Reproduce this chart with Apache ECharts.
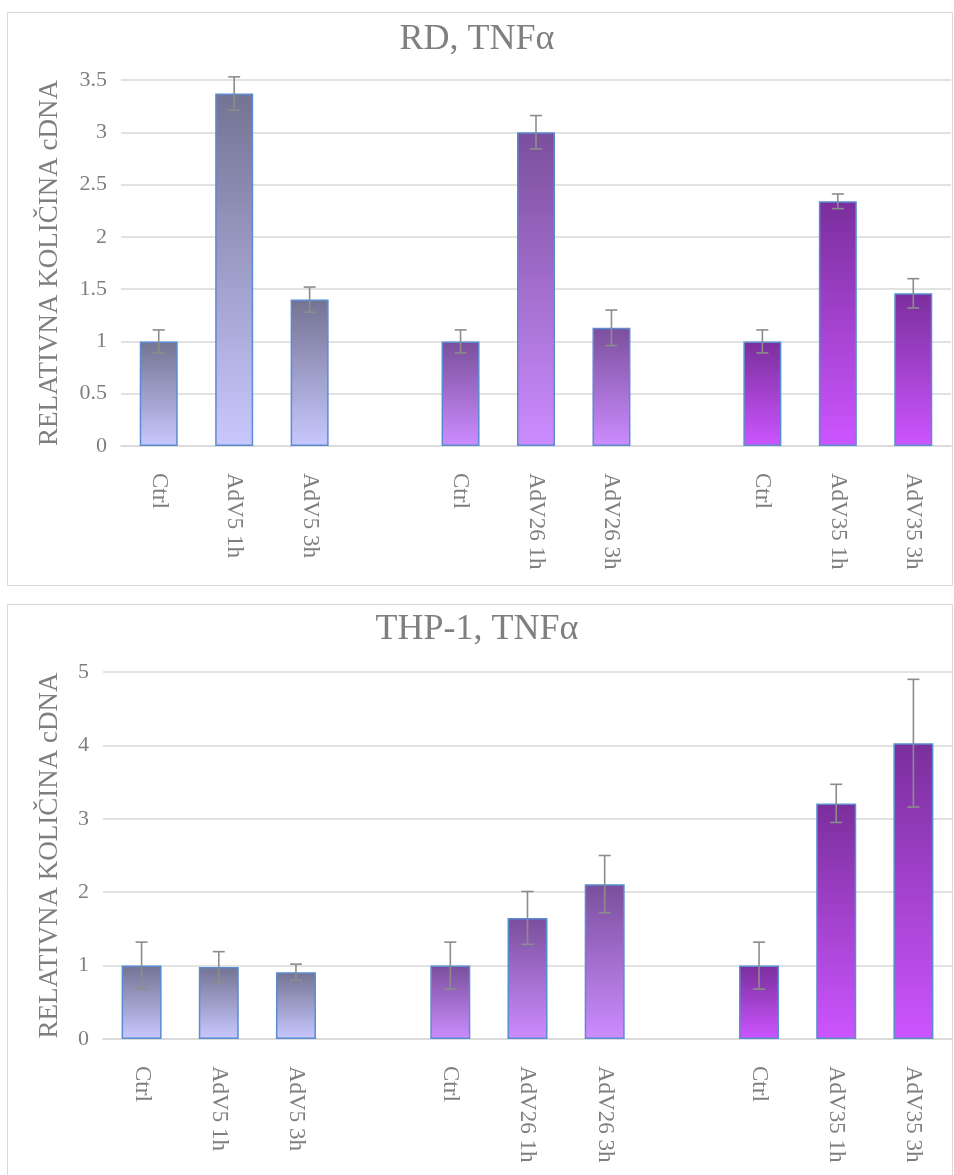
<!DOCTYPE html>
<html>
<head>
<meta charset="utf-8">
<script src="https://cdn.jsdelivr.net/npm/echarts@6/dist/echarts.min.js"></script>
<style>
html,body{margin:0;padding:0;background:#fff;}
#c{width:954px;height:1175px;}
</style>
</head>
<body>
<div id="c"></div>
<script>
const categories = ['Ctrl','AdV5 1h','AdV5 3h','','Ctrl','AdV26 1h','AdV26 3h','','Ctrl','AdV35 1h','AdV35 3h'];
const groupOf = [0,0,0,-1,1,1,1,-1,2,2,2];

const rdTitle = 'RD, TNFα';
const rdValues = [1.0, 3.37, 1.40, null, 1.0, 3.0, 1.13, null, 1.0, 2.34, 1.46];
const rdErrors = [0.11, 0.16, 0.12, null, 0.11, 0.16, 0.17, null, 0.11, 0.07, 0.14];
const rdTicks = {min: 0, max: 3.5, interval: 0.5};

const thpTitle = 'THP-1, TNFα';
const thpValues = [1.0, 0.98, 0.91, null, 1.0, 1.65, 2.11, null, 1.0, 3.21, 4.03];
const thpErrors = [0.32, 0.21, 0.11, null, 0.32, 0.36, 0.39, null, 0.32, 0.26, 0.87];
const thpTicks = {min: 0, max: 5, interval: 1};

const yName = 'RELATIVNA KOLIČINA cDNA';

const groupColors = [
  ['#737393', '#c8c8ff'],
  ['#7a4f9c', '#cc8cff'],
  ['#7a2f9c', '#cc55ff']
];

const FONT = 'Liberation Serif';
const TXT = '#7f7f7f';

function barData(vals){
  return vals.map((v,i)=>{
    if(v===null) return '-';
    const g = groupColors[groupOf[i]];
    return {value: v, itemStyle: {color: {type:'linear', x:0, y:0, x2:0, y2:1,
      colorStops:[{offset:0,color:g[0]},{offset:1,color:g[1]}]}}};
  });
}
function errData(vals, errs){
  const out = [];
  vals.forEach((v,i)=>{ if(v!==null) out.push([i, v-errs[i], v+errs[i]]); });
  return out;
}
function renderErr(params, api){
  const x = api.value(0);
  const lo = api.coord([x, api.value(1)]);
  const hi = api.coord([x, api.value(2)]);
  const hw = 6;
  const st = {stroke:'#8c8c8c', lineWidth:1.6};
  return {type:'group', children:[
    {type:'line', shape:{x1:lo[0],y1:lo[1],x2:hi[0],y2:hi[1]}, style:st},
    {type:'line', shape:{x1:lo[0]-hw,y1:lo[1],x2:lo[0]+hw,y2:lo[1]}, style:st},
    {type:'line', shape:{x1:hi[0]-hw,y1:hi[1],x2:hi[0]+hw,y2:hi[1]}, style:st}
  ]};
}
function xAx(gi){
  return {type:'category', gridIndex:gi, data:categories,
    axisLine:{show:true, lineStyle:{color:'#d9d9d9', width:1.5}},
    axisTick:{show:false},
    axisLabel:{interval:0, rotate:-90, margin:27, fontFamily:FONT, fontSize:23, color:TXT}};
}
function yAx(gi, t, gap){
  return {type:'value', gridIndex:gi, min:t.min, max:t.max, interval:t.interval,
    name:yName, nameLocation:'middle', nameGap:gap,
    nameTextStyle:{fontFamily:FONT, fontSize:27, color:TXT},
    axisLine:{show:false}, axisTick:{show:false},
    axisLabel:{margin:14, fontFamily:FONT, fontSize:22, color:TXT},
    splitLine:{lineStyle:{color:'#d9d9d9', width:1.5}}};
}

const chart = echarts.init(document.getElementById('c'));
chart.setOption({
  animation:false,
  backgroundColor:'#fff',
  graphic:[
    {type:'rect', shape:{x:7.5,y:12.5,width:945,height:573}, style:{fill:'none', stroke:'#d9d9d9', lineWidth:1}, silent:true},
    {type:'rect', shape:{x:7.5,y:604.5,width:945,height:580}, style:{fill:'none', stroke:'#d9d9d9', lineWidth:1}, silent:true}
  ],
  title:[
    {text:rdTitle, left:'center', top:17, textStyle:{fontFamily:FONT, fontSize:36, fontWeight:'normal', color:TXT}},
    {text:thpTitle, left:'center', top:607, textStyle:{fontFamily:FONT, fontSize:36, fontWeight:'normal', color:TXT}}
  ],
  grid:[
    {left:121, top:80, width:830, height:366},
    {left:103, top:672, width:849, height:367}
  ],
  xAxis:[xAx(0), xAx(1)],
  yAxis:[yAx(0, rdTicks, 58), yAx(1, thpTicks, 40)],
  series:[
    {type:'bar', xAxisIndex:0, yAxisIndex:0, data:barData(rdValues), barWidth:38,
      itemStyle:{borderColor:'#5b8bd0', borderWidth:1.5}},
    {type:'custom', xAxisIndex:0, yAxisIndex:0, data:errData(rdValues, rdErrors), renderItem:renderErr, z:5},
    {type:'bar', xAxisIndex:1, yAxisIndex:1, data:barData(thpValues), barWidth:40,
      itemStyle:{borderColor:'#5b8bd0', borderWidth:1.5}},
    {type:'custom', xAxisIndex:1, yAxisIndex:1, data:errData(thpValues, thpErrors), renderItem:renderErr, z:5}
  ]
});
</script>
</body>
</html>
